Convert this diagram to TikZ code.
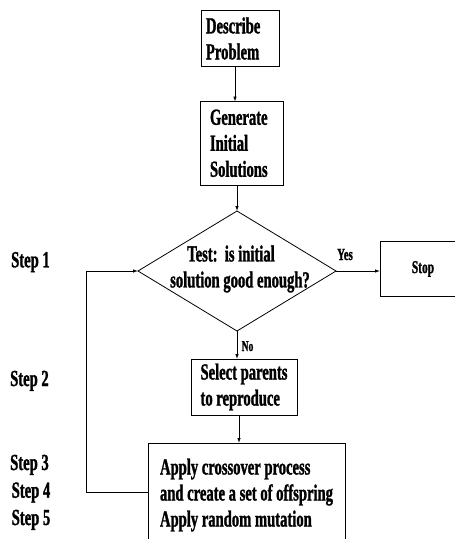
\documentclass[tikz,border=0pt]{standalone}
\usepackage{fontspec}
\setmainfont{Liberation Serif}[FakeStretch=0.635,BoldFeatures={FakeBold=1.2}]
\usetikzlibrary{shapes.geometric,arrows.meta}
\tikzset{
  txt/.style={font=\bfseries\fontsize{23}{26}\selectfont},
  box/.style={txt, draw, line width=1pt, align=left, inner ysep=0pt, outer sep=0pt},
  arr/.style={line width=0.8pt, -{Latex[length=5pt,width=3.5pt]}},
  steplabel/.style={txt, anchor=base west, inner sep=0pt},
  smalllbl/.style={font=\bfseries\fontsize{#1}{#1}\selectfont, inner sep=0pt},
}
\begin{document}
\begin{tikzpicture}[x=1pt,y=-1pt]
\clip (0,0) rectangle (455,539);
\fill[white] (0,0) rectangle (455,539);
% boxes
\node[box, text width=68pt, inner xsep=5pt, minimum height=56pt] (desc) at (240,38.5) {Describe\\Problem};
\node[box, text width=63pt, inner xsep=10pt, minimum height=83.5pt] (gen) at (241.5,143.3) {Generate\\Initial\\Solutions};
\node[diamond, draw, line width=0.8pt, minimum width=198pt, minimum height=120pt, inner sep=0pt, outer sep=0pt] (dia) at (237,271) {};
\node[txt, align=center, inner sep=0pt] (dtext) at (240,269) {Test:\ \ is initial\kern18pt\\solution good enough?};
\node[box, font=\bfseries\fontsize{18}{20}\selectfont, minimum width=86pt, minimum height=55pt, inner sep=0pt] (stop) at (423,269) {Stop};
\node[box, minimum width=106pt, minimum height=56pt, inner xsep=0pt] (sel) at (244,387) {Select parents\\to reproduce};
\node[box, minimum width=197pt, minimum height=104pt, inner xsep=0pt] (bot) at (246.5,495) {Apply crossover process\\and create a set of offspring\\Apply random mutation};
% labels
\node[smalllbl=17, anchor=base] (yes) at (345,260) {Yes};
\node[smalllbl=15, anchor=base west] (no) at (241.5,351) {No};
\node[steplabel] (st1) at (11,267.3) {Step 1};
\node[steplabel] (st2) at (10,386) {Step 2};
\node[steplabel] (st3) at (10,470) {Step 3};
\node[steplabel] (st4) at (11.5,497.7) {Step 4};
\node[steplabel] (st5) at (11.5,525) {Step 5};
% connectors
\draw[arr] ([xshift=-5pt]desc.south) -- ([xshift=-6.5pt]gen.north);
\draw[arr] ([xshift=-4.5pt]gen.south) -- (dia.north);
\draw[arr] (dia.east) -- (stop.west |- dia.east);
\draw[arr] (dia.south) -- (dia.south |- sel.north);
\coordinate (s1) at ([xshift=-5pt]sel.south);
\draw[arr] (s1) -- (s1 |- bot.north);
\coordinate (lp) at (86,271);
\draw[arr] ([yshift=3pt]bot.west) -| (lp) -- (dia.west);
\end{tikzpicture}
\end{document}
